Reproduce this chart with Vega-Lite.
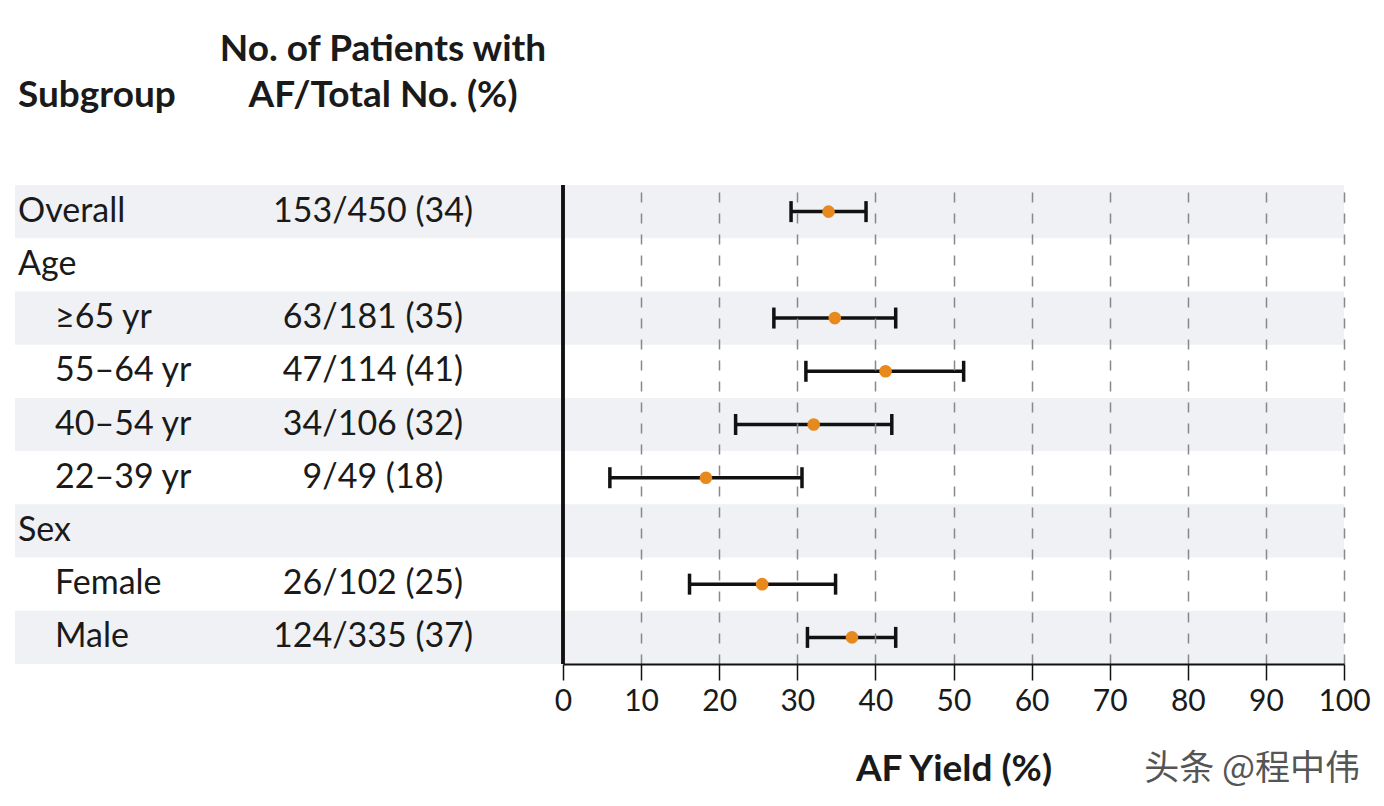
{
  "$schema": "https://vega.github.io/schema/vega-lite/v6.json",
  "background": "white",
  "padding": {"left": 15, "top": 31, "right": 0, "bottom": 12},
  "bounds": "flush",
  "spacing": 0,
  "config": {
    "view": {"stroke": null},
    "font": "Lato",
    "title": {"fontSize": 37, "fontWeight": "bold", "color": "#1a1a1a", "lineHeight": 46, "baseline": "bottom", "offset": 70}
  },
  "data": {
    "values": [
      {"label": "Overall", "level": 0, "count": "153/450 (34)", "est": 34.0, "lo": 29.2, "hi": 38.8, "shade": true},
      {"label": "Age", "level": 0, "count": "", "est": null, "lo": null, "hi": null, "shade": false},
      {"label": "≥65 yr", "level": 1, "count": "63/181 (35)", "est": 34.8, "lo": 27.0, "hi": 42.6, "shade": true},
      {"label": "55–64 yr", "level": 1, "count": "47/114 (41)", "est": 41.3, "lo": 31.1, "hi": 51.3, "shade": false},
      {"label": "40–54 yr", "level": 1, "count": "34/106 (32)", "est": 32.1, "lo": 22.1, "hi": 42.1, "shade": true},
      {"label": "22–39 yr", "level": 1, "count": "9/49 (18)", "est": 18.3, "lo": 6.0, "hi": 30.6, "shade": false},
      {"label": "Sex", "level": 0, "count": "", "est": null, "lo": null, "hi": null, "shade": true},
      {"label": "Female", "level": 1, "count": "26/102 (25)", "est": 25.5, "lo": 16.2, "hi": 34.9, "shade": false},
      {"label": "Male", "level": 1, "count": "124/335 (37)", "est": 37.0, "lo": 31.3, "hi": 42.6, "shade": true}
    ]
  },
  "hconcat": [
    {
      "width": 182,
      "height": 479,
      "title": {"text": "Subgroup", "anchor": "start", "dx": 3},
      "layer": [
        {
          "transform": [{"filter": "datum.shade"}],
          "mark": {"type": "rect", "color": "#eff1f4"},
          "encoding": {
            "y": {"field": "label", "type": "nominal", "scale": {"domain": ["Overall", "Age", "≥65 yr", "55–64 yr", "40–54 yr", "22–39 yr", "Sex", "Female", "Male"], "paddingInner": 0, "paddingOuter": 0}, "axis": null}
          }
        },
        {
          "mark": {"type": "text", "align": "left", "baseline": "middle", "fontSize": 34, "color": "#1a1a1a"},
          "encoding": {
            "y": {"field": "label", "type": "nominal", "axis": null},
            "x": {"field": "level", "type": "quantitative", "scale": {"domain": [0, 1], "range": [3, 40]}, "axis": null},
            "text": {"field": "label"}
          }
        }
      ]
    },
    {
      "width": 366,
      "height": 479,
      "title": {"text": ["No. of Patients with", "AF/Total No. (%)"], "anchor": "middle", "dx": 3},
      "layer": [
        {
          "transform": [{"filter": "datum.shade"}],
          "mark": {"type": "rect", "color": "#eff1f4"},
          "encoding": {
            "y": {"field": "label", "type": "nominal", "scale": {"domain": ["Overall", "Age", "≥65 yr", "55–64 yr", "40–54 yr", "22–39 yr", "Sex", "Female", "Male"], "paddingInner": 0, "paddingOuter": 0}, "axis": null}
          }
        },
        {
          "mark": {"type": "text", "align": "center", "baseline": "middle", "fontSize": 34, "color": "#1a1a1a", "dx": -7},
          "encoding": {
            "y": {"field": "label", "type": "nominal", "axis": null},
            "text": {"field": "count"}
          }
        }
      ]
    },
    {
      "width": 781,
      "height": 479,
      "title": {"text": "头条 @程中伟", "orient": "bottom", "anchor": "end", "font": "Noto Sans CJK SC", "fontSize": 35, "fontWeight": "normal", "color": "#555555", "offset": -7, "dx": -10, "baseline": "alphabetic"},
      "layer": [
        {
          "transform": [{"filter": "datum.shade"}],
          "mark": {"type": "rect", "color": "#eff1f4"},
          "encoding": {
            "y": {"field": "label", "type": "nominal", "scale": {"domain": ["Overall", "Age", "≥65 yr", "55–64 yr", "40–54 yr", "22–39 yr", "Sex", "Female", "Male"], "paddingInner": 0, "paddingOuter": 0}, "axis": null},
            "x": {"datum": 0, "type": "quantitative", "scale": {"domain": [0, 100]},
              "axis": {
                "values": [0, 10, 20, 30, 40, 50, 60, 70, 80, 90, 100],
                "zindex": 1,
                "grid": true,
                "gridDash": [10, 11],
                "gridColor": "#888888",
                "gridWidth": 1.5,
                "gridOpacity": {"condition": {"test": "datum.value === 0", "value": 0}, "value": 1},
                "domainColor": "#111111",
                "domainWidth": 2,
                "tickColor": "#111111",
                "tickWidth": 1.5,
                "tickSize": 16,
                "labelFontSize": 30,
                "labelColor": "#1a1a1a",
                "labelPadding": 6,
                "labelFlush": false,
                "title": "AF Yield (%)",
                "titleFontSize": 37,
                "titleFontWeight": "bold",
                "titleColor": "#1a1a1a",
                "titlePadding": 35
              }
            },
            "x2": {"datum": 100}
          }
        },
        {
          "mark": {"type": "rule", "color": "#111111", "strokeWidth": 2.5},
          "encoding": {"x": {"datum": 0, "type": "quantitative"}}
        },
        {
          "mark": {"type": "rule", "color": "#111111", "strokeWidth": 3.5},
          "encoding": {
            "y": {"field": "label", "type": "nominal", "axis": null},
            "x": {"field": "lo", "type": "quantitative"},
            "x2": {"field": "hi"}
          }
        },
        {
          "mark": {"type": "tick", "color": "#111111", "opacity": 1, "thickness": 3.5, "size": 21, "orient": "vertical"},
          "encoding": {
            "y": {"field": "label", "type": "nominal", "axis": null},
            "x": {"field": "lo", "type": "quantitative"}
          }
        },
        {
          "mark": {"type": "tick", "color": "#111111", "opacity": 1, "thickness": 3.5, "size": 21, "orient": "vertical"},
          "encoding": {
            "y": {"field": "label", "type": "nominal", "axis": null},
            "x": {"field": "hi", "type": "quantitative"}
          }
        },
        {
          "mark": {"type": "circle", "color": "#e8891e", "opacity": 1, "size": 160},
          "encoding": {
            "y": {"field": "label", "type": "nominal", "axis": null},
            "x": {"field": "est", "type": "quantitative"}
          }
        }
      ]
    }
  ]
}
